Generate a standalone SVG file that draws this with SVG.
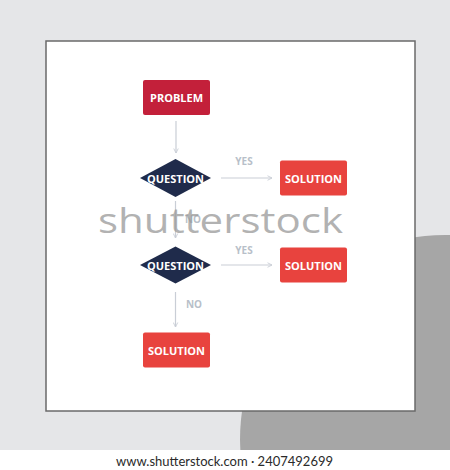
<svg xmlns="http://www.w3.org/2000/svg" width="450" height="470" viewBox="0 0 450 470">
<defs>
<style>
.lbl{font-family:"Open Sans","Liberation Sans",sans-serif;font-weight:700;font-size:11px;fill:#ffffff;text-anchor:middle;dominant-baseline:central}
.edge{font-family:"Open Sans","Liberation Sans",sans-serif;font-weight:700;font-size:10px;fill:#b8bfc9;text-anchor:middle;dominant-baseline:central}
.con{stroke:#c9ced6;stroke-width:1.2;fill:none;marker-end:url(#ah)}
.prob{fill:#c3203a}
.sol{fill:#e8433e}
.q{fill:#1f2b4b}
</style>
<marker id="ah" viewBox="0 0 8 8" refX="7" refY="4" markerWidth="6" markerHeight="6" orient="auto" markerUnits="userSpaceOnUse">
<path d="M1,1 L7,4 L1,7" fill="none" stroke="#c9ced6" stroke-width="1.2"/>
</marker>
</defs>
<rect x="0" y="0" width="450" height="470" fill="#e5e6e8"/>
<circle cx="445" cy="440" r="205" fill="#a6a6a6"/>
<rect x="46" y="41" width="369" height="370" fill="#ffffff" stroke="#6a6a6a" stroke-width="1.5"/>

<g id="connectors">
<line class="con" x1="176" y1="121" x2="176" y2="153"/>
<line class="con" x1="221" y1="178" x2="272" y2="178"/>
<line class="con" x1="175.5" y1="201" x2="175.5" y2="238"/>
<line class="con" x1="221" y1="265" x2="272" y2="265"/>
<line class="con" x1="175.5" y1="292" x2="175.5" y2="327"/>
<text class="edge" x="244" y="161">YES</text>
<text class="edge" x="193" y="219">NO</text>
<text class="edge" x="244" y="250">YES</text>
<text class="edge" x="194" y="304">NO</text>
</g>

<g id="problem">
<rect class="prob" x="143" y="80" width="67" height="35" rx="2"/>
<text class="lbl" x="176.5" y="97.5">PROBLEM</text>
</g>
<g id="question1">
<polygon class="q" points="175.5,159 211,178 175.5,197 140,178"/>
<text class="lbl" x="175.5" y="178">QUESTION</text>
</g>
<g id="solution1">
<rect class="sol" x="280" y="160.5" width="67" height="35" rx="2"/>
<text class="lbl" x="313.5" y="178">SOLUTION</text>
</g>
<g id="question2">
<polygon class="q" points="175.5,246.5 211,265 175.5,283.5 140,265"/>
<text class="lbl" x="175.5" y="265">QUESTION</text>
</g>
<g id="solution2">
<rect class="sol" x="280" y="247.5" width="67" height="35" rx="2"/>
<text class="lbl" x="313.5" y="265">SOLUTION</text>
</g>
<g id="solution3">
<rect class="sol" x="143" y="332.5" width="67" height="35" rx="2"/>
<text class="lbl" x="176.5" y="350">SOLUTION</text>
</g>

<text x="98" y="233" font-family="Open Sans, Liberation Sans, sans-serif" font-size="35" font-weight="500" fill="#999999" fill-opacity="0.75" textLength="245" lengthAdjust="spacingAndGlyphs">shutterstock</text>

<rect x="0" y="450" width="450" height="20" fill="#ffffff"/>
<text x="224.5" y="465.5" font-family="Lato, Liberation Sans, sans-serif" font-size="14" fill="#2a2a2a" text-anchor="middle" textLength="217" lengthAdjust="spacingAndGlyphs">www.shutterstock.com · 2407492699</text>
</svg>
